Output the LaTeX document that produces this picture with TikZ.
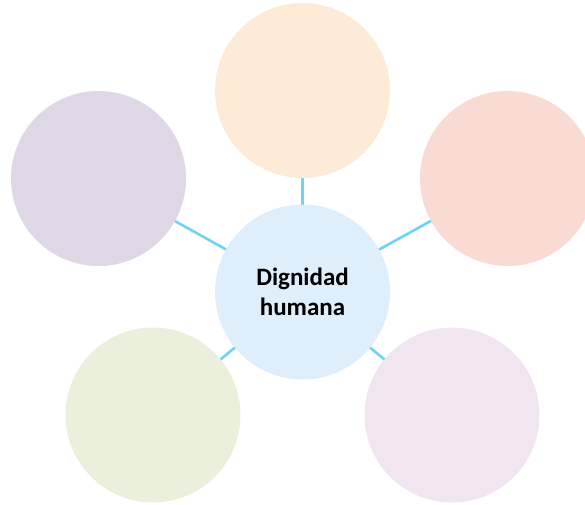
\documentclass[tikz,border=0pt]{standalone}
\usepackage{fontspec}
\setmainfont{Carlito}
\usetikzlibrary{backgrounds}
\definecolor{cline}{HTML}{6DD3F2}
\definecolor{ccenter}{HTML}{DEEEFB}
\definecolor{ctop}{HTML}{FDEBD8}
\definecolor{cright}{HTML}{F9DBD4}
\definecolor{cleft}{HTML}{DFD7E6}
\definecolor{cbl}{HTML}{EBF0DC}
\definecolor{cbr}{HTML}{F0E5F1}
\begin{document}
\begin{tikzpicture}[x=1pt,y=-1pt,
  bubble/.style={circle,minimum size=175pt,inner sep=0pt,draw=none},
  spoke/.style={draw=cline,line width=2.6pt}]
\useasboundingbox (0,0) rectangle (585,504);
\clip (0,0) rectangle (585,504);
\node[bubble,fill=ccenter,align=center,font=\fontsize{25}{30}\selectfont\bfseries] (c) at (302.5,292) {Dignidad\\humana};
\node[bubble,fill=ctop] (t) at (302.5,90.5) {};
\node[bubble,fill=cright] (r) at (507.5,178.5) {};
\node[bubble,fill=cleft] (l) at (98.5,178.5) {};
\node[bubble,fill=cbl] (bl) at (153,415) {};
\node[bubble,fill=cbr] (br) at (452,415) {};
\begin{scope}[on background layer]
\foreach \n in {t,r,l,bl,br}{\draw[spoke] (c.center) -- (\n.center);}
\end{scope}
\end{tikzpicture}
\end{document}
